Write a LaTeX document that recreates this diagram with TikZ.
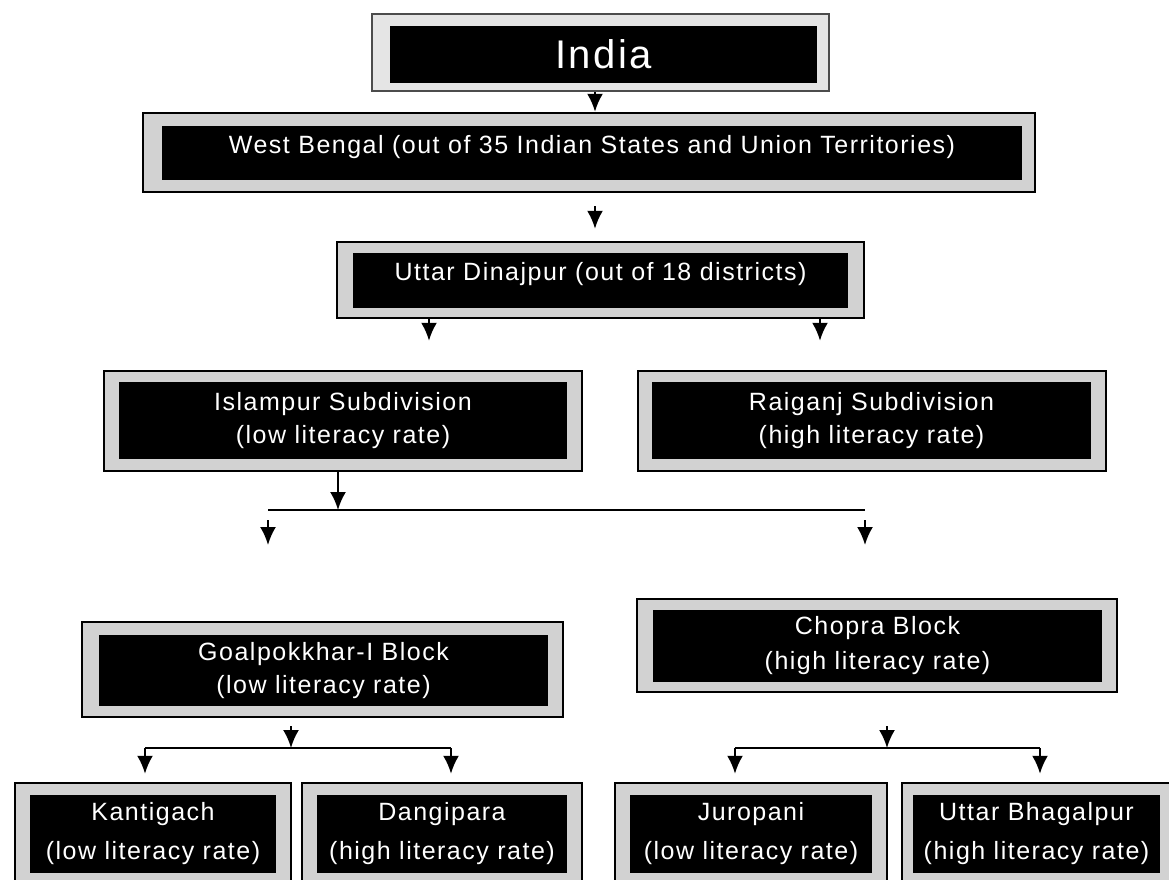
\documentclass[tikz,border=0pt]{standalone}
\usepackage{fontspec}
\setmainfont{Liberation Sans}[LetterSpace=6]
\usetikzlibrary{arrows.meta}

\begin{document}
\begin{tikzpicture}[x=1pt, y=-1pt,
    frame/.style={draw=black, line width=2.5pt, fill=gray!35, inner sep=0pt},
    core/.style={fill=black, text=white, inner sep=0pt, align=center, font=\fontsize{25}{33}\selectfont},
    onel/.style={text height=9pt, text depth=9pt},
    vil/.style={font=\fontsize{25}{39}\selectfont},
    arr/.style={-{Latex[length=18pt,width=16pt]}, line width=2.2pt}]
    \useasboundingbox (0,0) rectangle (1169,879);
    \clip (0,0) rectangle (1169,879);

    % Country and state
    \node [frame, draw=gray!60!black, line width=1.5pt, fill=gray!20, minimum width=457pt, minimum height=77pt] (indiaF) at (600.5,52.5) {};
    \node [core, minimum width=427pt, minimum height=57pt, font=\fontsize{40}{48}\selectfont] (india) at (603.5,54.5) {India};

    \node [frame, minimum width=892pt, minimum height=79pt] (wbF) at (589,152.5) {};
    \node [core, onel, minimum width=860pt, minimum height=54pt] (wb) at (592,153) {West Bengal (out of 35 Indian States and Union Territories)};

    % District
    \node [frame, minimum width=527pt, minimum height=76pt] (udF) at (600.5,280) {};
    \node [core, onel, minimum width=495pt, minimum height=55pt] (ud) at (600.5,280.5) {Uttar Dinajpur (out of 18 districts)};

    % Subdivisions
    \node [frame, minimum width=478pt, minimum height=100pt] (islF) at (343,421) {};
    \node [core, minimum width=448pt, minimum height=77pt] (isl) at (343,420.5) {Islampur Subdivision\\(low literacy rate)};

    \node [frame, minimum width=468pt, minimum height=100pt] (raiF) at (872,421) {};
    \node [core, minimum width=439pt, minimum height=77pt] (rai) at (871.5,420.5) {Raiganj Subdivision\\(high literacy rate)};

    % Blocks
    \node [frame, minimum width=481pt, minimum height=95pt] (goaF) at (322.5,669.5) {};
    \node [core, minimum width=449pt, minimum height=71pt] (goa) at (323.5,670.5) {Goalpokkhar-I Block\\(low literacy rate)};

    \node [frame, minimum width=480pt, minimum height=93pt] (choF) at (877,645.5) {};
    \node [core, minimum width=449pt, minimum height=72pt, font=\fontsize{25}{35}\selectfont] (cho) at (877.5,646) {Chopra Block\\(high literacy rate)};

    % Villages
    \node [frame, minimum width=276pt, minimum height=107pt] (kanF) at (153,836.5) {};
    \node [core, vil, minimum width=246pt, minimum height=78pt] (kan) at (153,834) {Kantigach\\(low literacy rate)};

    \node [frame, minimum width=280pt, minimum height=107pt] (danF) at (442,836.5) {};
    \node [core, vil, minimum width=250pt, minimum height=78pt] (dan) at (442,834) {Dangipara\\(high literacy rate)};

    \node [frame, minimum width=272pt, minimum height=107pt] (jurF) at (751,836.5) {};
    \node [core, vil, minimum width=242pt, minimum height=78pt] (jur) at (751,834) {Juropani\\(low literacy rate)};

    \node [frame, minimum width=270pt, minimum height=107pt] (ubF) at (1037,836.5) {};
    \node [core, vil, minimum width=247pt, minimum height=78pt] (ub) at (1036.5,834) {Uttar Bhagalpur\\(high literacy rate)};

    % Split points
    \coordinate (islSplit) at (338,510);
    \coordinate (islL) at (268,510);
    \coordinate (islR) at (865,510);
    \coordinate (tipL) at (268,545);
    \coordinate (tipR) at (865,545);
    \coordinate (goaSplit) at (291,748);
    \coordinate (goaL) at (145,748);
    \coordinate (goaR) at (451,748);
    \coordinate (choSplit) at (887,748);
    \coordinate (choL) at (735,748);
    \coordinate (choR) at (1040,748);

    % Connections
    \draw [arr] ([xshift=-5.5pt]indiaF.south) -- ([xshift=-5.5pt]indiaF.south |- wbF.north);
    \draw [arr, shorten <=13pt, shorten >=12pt] ([xshift=6pt]wbF.south) -- ([xshift=6pt]wbF.south |- udF.north);
    \draw [arr, shorten >=29pt] ([xshift=-171.5pt]udF.south) -- ([xshift=-171.5pt]udF.south |- islF.north);
    \draw [arr, shorten >=29pt] ([xshift=219.5pt]udF.south) -- ([xshift=219.5pt]udF.south |- raiF.north);

    \draw [arr] ([xshift=-5pt]islF.south) -- (islSplit);
    \draw [line width=2pt] (islL) -- (islR);
    \draw [arr] ([yshift=-10pt]islL) -- (tipL);
    \draw [arr] ([yshift=-10pt]islR) -- (tipR);

    \draw [arr, shorten <=8pt] ([xshift=-31.5pt]goaF.south) -- (goaSplit);
    \draw [line width=2pt] (goaL) -- (goaR);
    \draw [arr, shorten >=8pt] (goaL) -- (goaL |- kanF.north);
    \draw [arr, shorten >=8pt] (goaR) -- (goaR |- danF.north);

    \draw [arr, shorten <=33pt] ([xshift=10pt]choF.south) -- (choSplit);
    \draw [line width=2pt] (choL) -- (choR);
    \draw [arr, shorten >=8pt] (choL) -- (choL |- jurF.north);
    \draw [arr, shorten >=8pt] (choR) -- (choR |- ubF.north);

\end{tikzpicture}
\end{document}
